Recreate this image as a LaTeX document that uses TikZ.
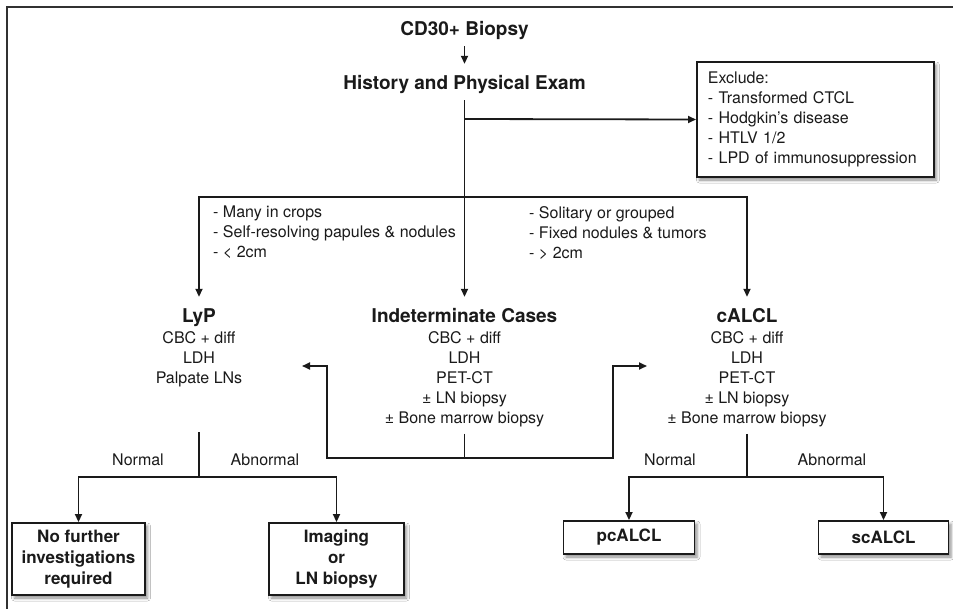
\documentclass[tikz,border=0pt]{standalone}
\usepackage{fontspec}
\setmainfont{TeX Gyre Heros}
\usetikzlibrary{arrows.meta,shadows.blur}
\definecolor{ink}{HTML}{1A1A1A}
\begin{document}
\begin{tikzpicture}[x=1pt,y=-1pt,
  every node/.style={text=ink},
  hdtext/.style={font=\bfseries\fontsize{19}{22}\selectfont, text height=14pt, text depth=0pt, inner xsep=3pt, inner ysep=11pt},
  bodytext/.style={font=\fontsize{16}{20}\selectfont, align=center, inner xsep=2pt, inner ysep=7pt, anchor=north},
  sidelab/.style={font=\fontsize{16}{20}\selectfont, align=left, inner sep=0pt, anchor=north west},
  brlab/.style={font=\fontsize{16}{20}\selectfont, inner sep=0pt},
  endbox/.style={draw=ink, line width=1.9pt, fill=white, font=\bfseries\fontsize{17}{21}\selectfont, align=center, inner sep=0pt,
     blur shadow={shadow xshift=2.5pt, shadow yshift=-3pt, shadow blur radius=3pt, shadow opacity=45}},
  conn/.style={draw=ink, line width=1.8pt},
  arrw/.style={conn, -{Triangle[length=8pt,width=7pt]}}
]
\useasboundingbox (0,0) rectangle (953,608);
\clip (0,0) rectangle (953,608);
\fill[white] (0,0) rectangle (953,608);
\draw[draw=ink!90, line width=2pt] (7,7) rectangle (980,640);

% headings
\node[hdtext] (cd30) at (464.5,28) {CD30+ Biopsy};
\node[hdtext] (hpe) at (464.5,82) {History and Physical Exam};
\node[hdtext] (lyp) at (199,315) {LyP};
\node[hdtext] (indet) at (464.5,315) {Indeterminate Cases};
\node[hdtext] (calcl) at (747,315) {cALCL};

% exclude box
\node[draw=ink, line width=1.9pt, fill=white, anchor=west, minimum width=237pt, minimum height=115pt,
  text width=215pt, inner xsep=11pt, inner ysep=0pt, align=left, font=\fontsize{16}{20}\selectfont,
  blur shadow={shadow xshift=2.5pt, shadow yshift=-3pt, shadow blur radius=3pt, shadow opacity=45}]
  (excl) at (696,119.5) {Exclude:\\- Transformed CTCL\\- Hodgkin’s disease\\- HTLV 1/2\\- LPD of immunosuppression};

% side labels
\node[sidelab] (lyplab) at (213,206) {- Many in crops\\- Self-resolving papules \& nodules\\- < 2cm};
\node[sidelab] (callab) at (529,206) {- Solitary or grouped\\- Fixed nodules \& tumors\\- > 2cm};

% bodies
\node[bodytext] (lypbody) at (199,324) {CBC + diff\\LDH\\Palpate LNs};
\node[bodytext] (indetbody) at (464.5,324) {CBC + diff\\LDH\\PET-CT\\± LN biopsy\\± Bone marrow biopsy};
\node[bodytext] (calclbody) at (747,324) {CBC + diff\\LDH\\PET-CT\\± LN biopsy\\± Bone marrow biopsy};

% branch labels
\node[brlab] (n1) at (138,460) {Normal};
\node[brlab] (a1) at (265,460) {Abnormal};
\node[brlab] (n2) at (670,460) {Normal};
\node[brlab] (a2) at (832,460) {Abnormal};

% end boxes
\node[endbox, minimum width=133pt, minimum height=72pt] (nofurther) at (78.5,559) {No further\\investigations\\required};
\node[endbox, minimum width=135pt, minimum height=72pt] (imaging) at (336.5,559) {Imaging\\or\\LN biopsy};
\node[endbox, minimum width=131pt, minimum height=33pt] (pcalcl) at (629,537.5) {pcALCL};
\node[endbox, minimum width=130pt, minimum height=33pt] (scalcl) at (883.5,537.5) {scALCL};

% coordinates
\coordinate (j1) at (464.5,119);
\coordinate (j2) at (464.5,197);
\coordinate (brL) at (327,458);
\coordinate (brR) at (613,458);
\coordinate (lypin) at (302,366);
\coordinate (calin) at (647,366);
\coordinate (lyps) at (199,432);
\coordinate (lypj) at (199,477);
\coordinate (calj) at (747,477);

% connectors
\draw[arrw] (cd30) -- (hpe);
\draw[arrw] (hpe) -- (indet);
\draw[arrw] (j1) -- (excl.west);
\draw[arrw] (j2) -| (lyp);
\draw[arrw] (j2) -| (calcl);
\draw[arrw] (indetbody.south) |- (brL) |- (lypin);
\draw[arrw] (indetbody.south) |- (brR) |- (calin);
\draw[conn] (lyps) -- (lypj);
\draw[arrw] (lypj) -| (nofurther);
\draw[arrw] (lypj) -| (imaging);
\draw[conn] (calclbody.south) -- (calj);
\draw[arrw] (calj) -| (pcalcl);
\draw[arrw] (calj) -| (scalcl);
\end{tikzpicture}
\end{document}
